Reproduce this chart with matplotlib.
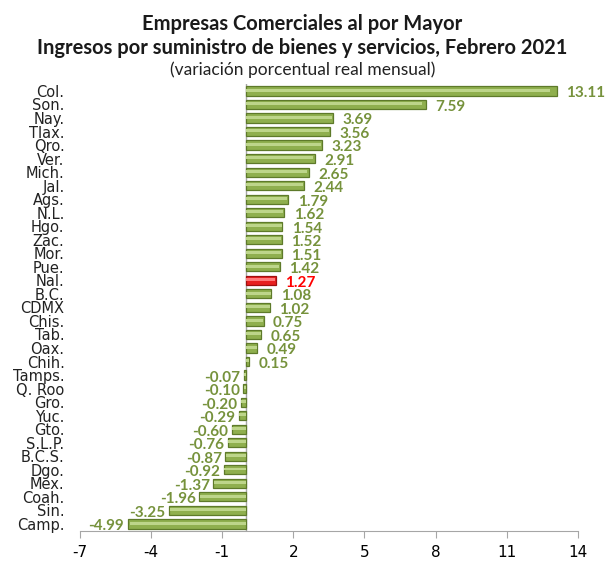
import numpy as np
import matplotlib.pyplot as plt

estados = ['Col.', 'Son.', 'Nay.', 'Tlax.', 'Qro.', 'Ver.', 'Mich.', 'Jal.', 'Ags.', 'N.L.',
           'Hgo.', 'Zac.', 'Mor.', 'Pue.', 'Nal.', 'B.C.', 'CDMX', 'Chis.', 'Tab.', 'Oax.',
           'Chih.', 'Tamps.', 'Q. Roo', 'Gro.', 'Yuc.', 'Gto.', 'S.L.P.', 'B.C.S.', 'Dgo.',
           'Mex.', 'Coah.', 'Sin.', 'Camp.']
variacion = [13.11, 7.59, 3.69, 3.56, 3.23, 2.91, 2.65, 2.44, 1.79, 1.62,
             1.54, 1.52, 1.51, 1.42, 1.27, 1.08, 1.02, 0.75, 0.65, 0.49,
             0.15, -0.07, -0.10, -0.20, -0.29, -0.60, -0.76, -0.87, -0.92,
             -1.37, -1.96, -3.25, -4.99]
xticks = [-7, -4, -1, 2, 5, 8, 11, 14]

green = '#76923C'
plt.rcParams['font.family'] = ['Lato', 'DejaVu Sans']

fig = plt.figure(figsize=(6.05, 5.61), dpi=100)
ax = fig.add_axes([0.132, 0.054, 0.823, 0.796])

y = np.arange(len(estados))
vals = np.array(variacion)
is_nal = np.array([e == 'Nal.' for e in estados])
face = np.where(is_nal, '#E82020', '#8FAF4E')
edge = np.where(is_nal, '#9E1010', '#5E7A2A')
hi = np.where(is_nal, '#FF7A7A', '#BDD58A')

ax.barh(y, vals, height=0.68, color=face, edgecolor=edge, linewidth=0.9, zorder=2)
# lighter stripe so the bars look shaded like the original
ax.barh(y - 0.06, vals * 0.98, height=0.22, color=hi, linewidth=0, zorder=3)

for yi, v, n in zip(y, vals, is_nal):
    c = '#FF0000' if n else green
    if v >= 0:
        ax.text(v + 0.4, yi + 0.18, f'{v:.2f}', va='center', ha='left', fontsize=11,
                fontweight='bold', color=c)
    else:
        ax.text(v - 0.15, yi + 0.18, f'{v:.2f}', va='center', ha='right', fontsize=11,
                fontweight='bold', color=c)

ax.set_ylim(len(estados) - 0.5, -0.5)
ax.set_xlim(-7, 14)
ax.set_xticks(xticks)
ax.set_xticklabels([str(t) for t in xticks], fontsize=11, family='DejaVu Sans')
ax.set_yticks(y)
ax.set_yticklabels(estados, fontsize=10.5, color='#222222', family='DejaVu Sans')
ax.tick_params(axis='y', length=0, pad=11)
ax.tick_params(axis='x', direction='out', length=5, color='#A6A6A6', pad=5)

for s in ['top', 'right', 'left']:
    ax.spines[s].set_visible(False)
ax.spines['bottom'].set_color('#A6A6A6')
ax.axvline(0, color='#A6A6A6', lw=1, zorder=1)

fig.text(0.5, 0.958, 'Empresas Comerciales al por Mayor', ha='center', va='center',
         fontsize=14.5, fontweight='bold', color='#1a1a1a')
fig.text(0.5, 0.915, 'Ingresos por suministro de bienes y servicios, Febrero 2021', ha='center',
         va='center', fontsize=14.5, fontweight='bold', color='#1a1a1a')
fig.text(0.5, 0.876, '(variación porcentual real mensual)', ha='center', va='center',
         fontsize=12.5, color='#222222')

fig.savefig('out.png', dpi=100)
